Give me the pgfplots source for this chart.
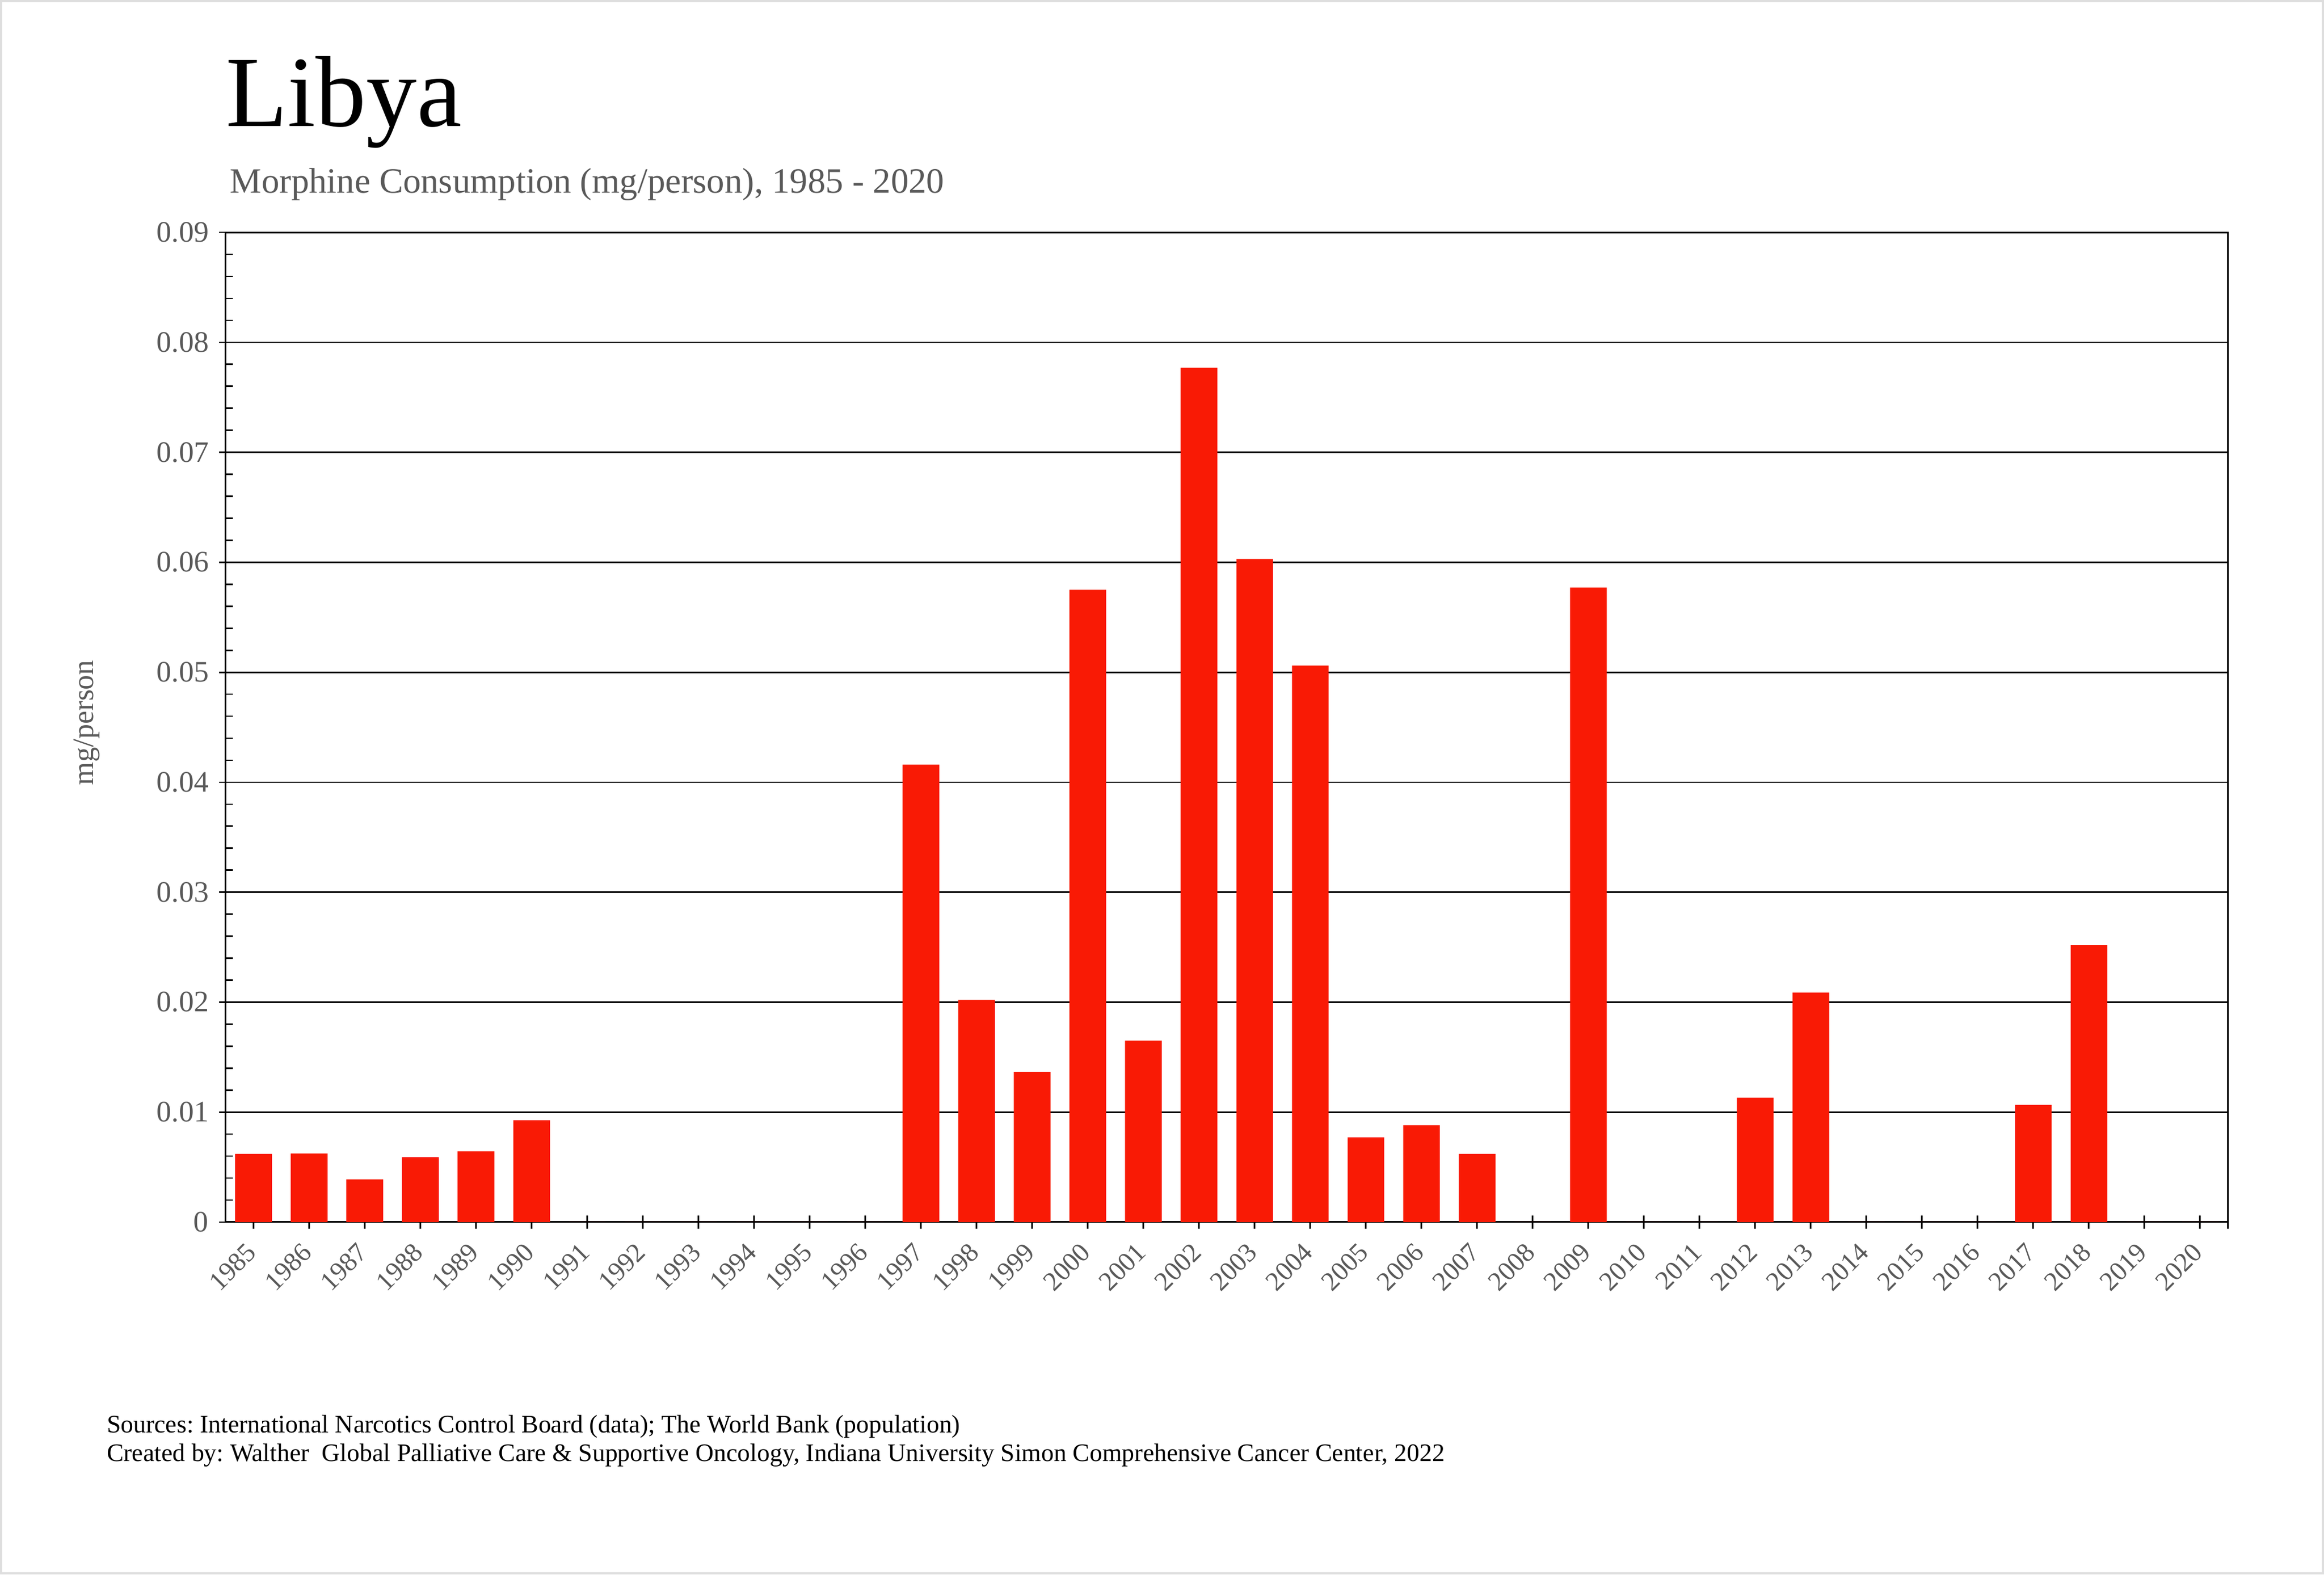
\documentclass[border=0pt]{standalone}
\usepackage{pgfplots}
\pgfplotsset{compat=1.18}
\usepackage{fontspec}
\setmainfont{Liberation Serif}
\frenchspacing
\definecolor{barred}{RGB}{249,26,5}
\definecolor{txtgray}{RGB}{89,89,89}
\begin{document}
\begin{tikzpicture}
\path[use as bounding box] (0pt,0pt) rectangle (783pt,530.55pt);
\draw[draw=black!13, line width=0.8pt, fill=white] (0.4pt,0.4pt) rectangle (782.6pt,530.15pt);
\begin{axis}[
  at={(76.05pt,118.75pt)}, anchor=south west,
  scale only axis, width=674.6pt, height=333.5pt,
  xmin=1984.5, xmax=2020.5, ymin=0, ymax=0.09,
  ybar, bar width=0.66,
  xtick={1985,...,2020},
  extra x ticks={2020.5}, extra x tick labels={},
  ytick={0,0.01,0.02,0.03,0.04,0.05,0.06,0.07,0.08,0.09},
  minor y tick num=4,
  ymajorgrids, major grid style={black, line width=0.5pt},
  axis line style={black, line width=0.55pt},
  tick style={black, line width=0.5pt},
  tick align=center, major tick length=4.45pt, minor tick length=2.35pt,
  minor tick style={xshift=1.175pt},
  xtick pos=bottom, ytick pos=left,
  scaled y ticks=false,
  /pgf/number format/assume math mode=true,
  yticklabel style={font=\fontsize{10}{12}\selectfont, text=txtgray, /pgf/number format/fixed, /pgf/number format/precision=2},
  xticklabel style={font=\fontsize{9}{10}\selectfont, text=txtgray, /pgf/number format/1000 sep={}, inner sep=0pt, xshift=-2.9pt, yshift=-4.1pt, rotate=45, anchor=north east},
]
\addplot[fill=barred, draw=none] coordinates {
(1985,0.0062) (1986,0.00624) (1987,0.00388) (1988,0.0059) (1989,0.00644) (1990,0.00926)
(1991,0) (1992,0) (1993,0) (1994,0) (1995,0) (1996,0)
(1997,0.0416) (1998,0.0202) (1999,0.01366) (2000,0.0575) (2001,0.0165) (2002,0.0777)
(2003,0.0603) (2004,0.0506) (2005,0.0077) (2006,0.0088) (2007,0.0062) (2008,0)
(2009,0.0577) (2010,0) (2011,0) (2012,0.01132) (2013,0.02087) (2014,0) (2015,0)
(2016,0) (2017,0.01067) (2018,0.02517) (2019,0) (2020,0)
};
\end{axis}
\node[anchor=base west, inner sep=0pt, font=\fontsize{34}{40}\selectfont] at (76pt,487.9pt) {Libya};
\node[anchor=base west, inner sep=0pt, font=\fontsize{12}{14}\selectfont, text=txtgray] at (77.3pt,465.6pt) {Morphine Consumption (mg/person), 1985 - 2020};
\node[rotate=90, inner sep=0pt, font=\fontsize{10}{12}\selectfont, text=txtgray] at (29.3pt,287pt) {mg/person};
\node[anchor=base west, inner sep=0pt, font=\fontsize{8.5}{10}\selectfont] at (35.8pt,47.7pt) {Sources: International Narcotics Control Board (data); The World Bank (population)};
\node[anchor=base west, inner sep=0pt, font=\fontsize{8.5}{10}\selectfont] at (35.8pt,38.2pt) {Created by: Walther\ \ Global Palliative Care \& Supportive Oncology, Indiana University Simon Comprehensive Cancer Center, 2022};
\end{tikzpicture}
\end{document}
